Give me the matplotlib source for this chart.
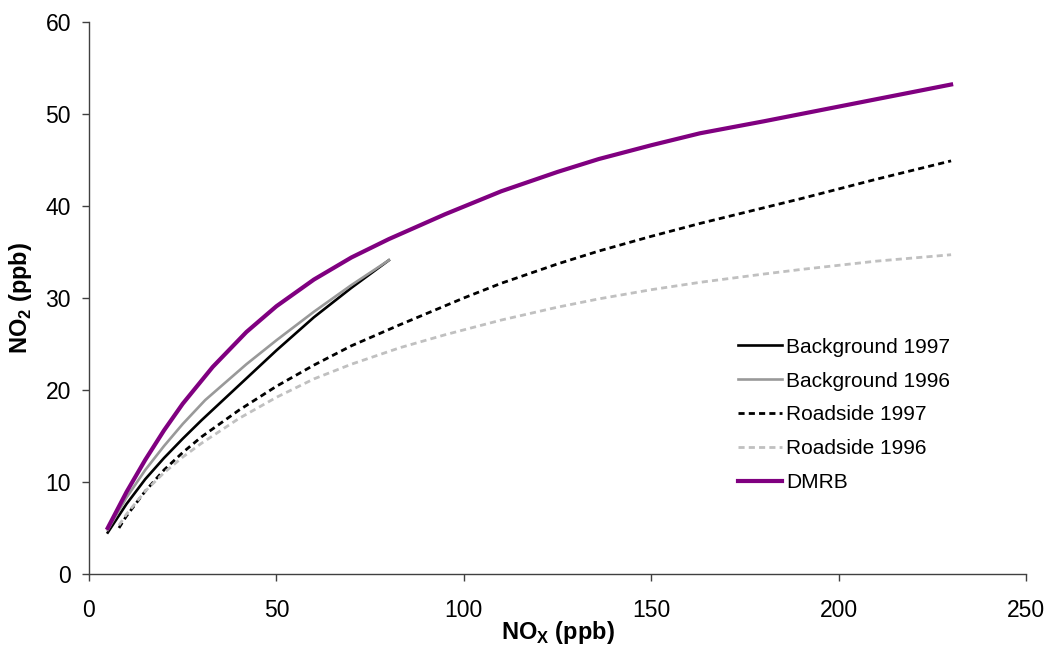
import numpy as np
import matplotlib
matplotlib.use('Agg')
import matplotlib.pyplot as plt

plt.rcParams['font.family'] = ['Liberation Sans', 'DejaVu Sans']
plt.rcParams['mathtext.fontset'] = 'custom'
plt.rcParams['mathtext.rm'] = 'Liberation Sans'
plt.rcParams['mathtext.bf'] = 'Liberation Sans:bold'

# values (NOx ppb -> NO2 ppb)
bg97_x = [5, 10, 15, 20, 25, 30, 40, 50, 60, 70, 80]
bg97_y = [4.5, 7.6, 10.3, 12.6, 14.7, 16.7, 20.5, 24.3, 27.9, 31.1, 34.1]

bg96_x = [5, 10, 15, 20, 25, 31, 42, 50, 60, 70, 80]
bg96_y = [4.8, 8.3, 11.3, 13.9, 16.3, 18.9, 22.8, 25.4, 28.5, 31.4, 34.1]

rs97_x = [8, 10, 15, 20, 25, 30, 40, 50, 60, 70, 83, 100, 110, 125, 136, 150, 163, 180, 190, 210, 230]
rs97_y = [5.0, 6.3, 9.0, 11.3, 13.2, 14.9, 17.8, 20.4, 22.7, 24.8, 27.1, 30.0, 31.6, 33.7, 35.1,
          36.7, 38.1, 39.8, 40.8, 42.9, 44.9]

rs96_x = [8, 10, 15, 20, 25, 30, 40, 50, 60, 70, 83, 95, 110, 125, 136, 150, 163, 180, 190, 210, 230]
rs96_y = [5.3, 6.5, 9.0, 11.0, 12.7, 14.2, 16.9, 19.2, 21.2, 22.8, 24.6, 26.0, 27.6, 29.0, 29.9,
          30.9, 31.7, 32.6, 33.1, 34.0, 34.7]

dmrb_x = [5, 10, 15, 20, 25, 33, 42, 50, 60, 70, 80, 95, 110, 125, 136, 150, 163, 180, 200, 215, 230]
dmrb_y = [5.0, 8.9, 12.4, 15.6, 18.5, 22.5, 26.3, 29.1, 32.0, 34.4, 36.4, 39.1, 41.6, 43.7, 45.1,
          46.6, 47.9, 49.2, 50.8, 52.0, 53.2]

fig = plt.figure(figsize=(10.47, 6.46), dpi=100)
ax = fig.add_axes([0.085, 0.1115, 0.895, 0.8545])

ax.plot(bg97_x, bg97_y, color='black', lw=1.9, label='Background 1997')
ax.plot(bg96_x, bg96_y, color='#999999', lw=1.9, label='Background 1996')
ax.plot(rs97_x, rs97_y, color='black', lw=2.0, dashes=(2.2, 1.5), label='Roadside 1997')
ax.plot(rs96_x, rs96_y, color='#c0c0c0', lw=2.0, dashes=(2.2, 1.5), label='Roadside 1996')
ax.plot(dmrb_x, dmrb_y, color='#800080', lw=3.0, label='DMRB')

ax.set_xlim(0, 250)
ax.set_ylim(0, 60)
ax.set_xticks(np.arange(0, 251, 50))
ax.set_yticks(np.arange(0, 61, 10))

for s in ['top', 'right']:
    ax.spines[s].set_visible(False)
for s in ['left', 'bottom']:
    ax.spines[s].set_color('#404040')
    ax.spines[s].set_linewidth(1.0)

ax.tick_params(axis='both', direction='out', length=5, width=1.0, color='#404040', labelsize=16.5)
ax.tick_params(axis='x', pad=13)
ax.tick_params(axis='y', pad=8)

ax.set_xlabel(r'NO$_\mathbf{X}$ (ppb)', fontsize=17, fontweight='bold', labelpad=-2)
ax.set_ylabel(r'NO$_\mathbf{2}$ (ppb)', fontsize=17, fontweight='bold', labelpad=8)

ax.legend(loc='upper left', bbox_to_anchor=(0.693, 0.428), frameon=False, fontsize=15,
          handlelength=2.1, handletextpad=0.2, labelspacing=0.71, borderpad=0, borderaxespad=0)

fig.savefig('out.png', dpi=100)
